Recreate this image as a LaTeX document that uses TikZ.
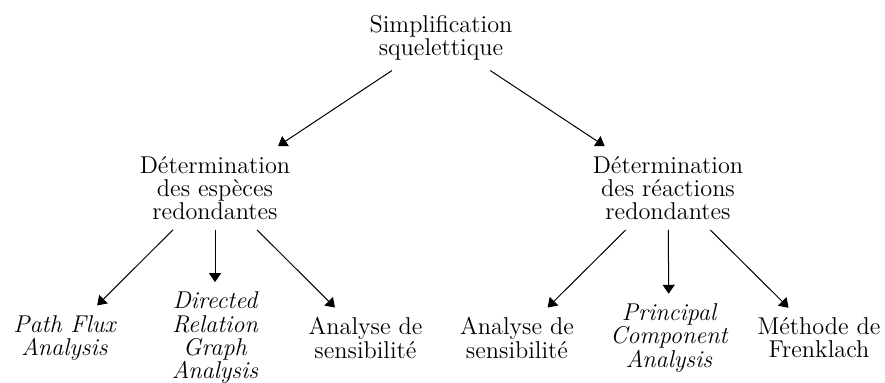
\documentclass[tikz,border=0pt]{standalone}
\usepackage{fontspec}
\usetikzlibrary{arrows.meta}
\begin{document}
\begin{tikzpicture}[x=0.5pt,y=-0.5pt,
  lbl/.style={align=center, inner sep=5pt, outer sep=0pt, font=\fontsize{12.15pt}{11.65pt}\selectfont},
  ilbl/.style={lbl, font=\fontsize{12.15pt}{11.65pt}\selectfont\itshape},
  arr/.style={-{Triangle[length=4.5pt,width=6pt]}, line width=0.5pt}]
\useasboundingbox (0,0) rectangle (885,383);
\node[lbl] (root) at (441,38) {Simplification\\squelettique};
\node[lbl] (esp) at (215,188) {Détermination\\des espèces\\redondantes};
\node[lbl] (rea) at (668,188) {Détermination\\des réactions\\redondantes};
\node[ilbl] (pfa) at (64.5,338) {Path Flux\\Analysis};
\node[ilbl] (drga) at (215,338) {Directed\\Relation\\Graph\\Analysis};
\node[lbl] (sa1) at (365.5,338) {Analyse de\\sensibilité};
\node[lbl] (sa2) at (517,338) {Analyse de\\sensibilité};
\node[ilbl] (pca) at (669,338) {Principal\\Component\\Analysis};
\node[lbl] (fren) at (819,338) {Méthode de\\Frenklach};
\draw[arr] (root) -- (esp);
\draw[arr] (root) -- (rea);
\draw[arr] (esp) -- (pfa);
\draw[arr] (esp) -- (drga);
\draw[arr] (esp) -- (sa1);
\draw[arr] (rea) -- (sa2);
\draw[arr] (rea) -- (pca);
\draw[arr] (rea) -- (fren);
\end{tikzpicture}
\end{document}
